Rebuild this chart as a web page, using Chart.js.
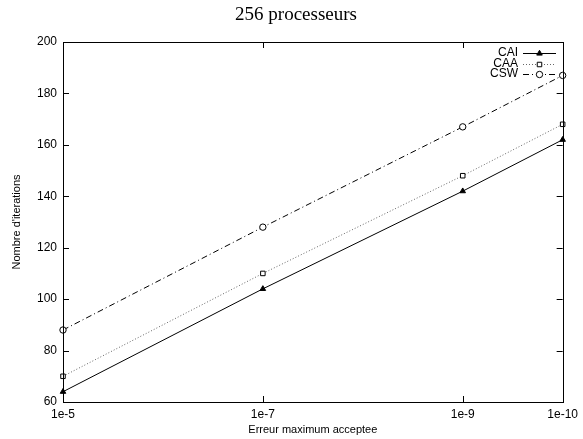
<!DOCTYPE html>
<html lang="fr">
<head>
  <meta charset="UTF-8">
  <title>256 processeurs</title>
  <style>
    html, body { margin: 0; padding: 0; background: #fff; }
    #wrap { width: 583px; height: 439px; }
  </style>
</head>
<body>
  <div id="wrap"><canvas id="myChart" width="583" height="439"></canvas></div>

  <script src="https://cdn.jsdelivr.net/npm/chart.js@4.4.1/dist/chart.umd.min.js"></script>
  <script>
    // erreur maximum acceptee (x) and iteration counts per method
    const erreurs = [1e-5, 1e-7, 1e-9, 1e-10];
    const cai = [64, 104, 142, 162];
    const caa = [70, 110, 148, 168];
    const csw = [88, 128, 167, 187];
    const yTicks = [60, 80, 100, 120, 140, 160, 180, 200];

    const toPoints = arr => arr.map((v, i) => ({ x: erreurs[i], y: v }));
    const expLabel = v => '1e-' + (-Math.round(Math.log10(v)));

    // gnuplot-like frame: full box, inward ticks mirrored on all sides, legend top right
    const gnuFrame = {
      id: 'gnuFrame',
      afterDraw(chart) {
        const { ctx, chartArea: a, scales } = chart;
        const tl = 6;
        ctx.save();
        ctx.strokeStyle = '#000';
        ctx.lineWidth = 1;
        ctx.strokeRect(Math.round(a.left) + 0.5, Math.round(a.top) + 0.5,
                       Math.round(a.right - a.left), Math.round(a.bottom - a.top));
        ctx.beginPath();
        yTicks.forEach(v => {
          const y = Math.round(scales.y.getPixelForValue(v)) + 0.5;
          ctx.moveTo(a.left, y); ctx.lineTo(a.left + tl, y);
          ctx.moveTo(a.right, y); ctx.lineTo(a.right - tl, y);
        });
        erreurs.forEach(v => {
          const x = Math.round(scales.x.getPixelForValue(v)) + 0.5;
          ctx.moveTo(x, a.bottom); ctx.lineTo(x, a.bottom - tl);
          ctx.moveTo(x, a.top); ctx.lineTo(x, a.top + tl);
        });
        ctx.stroke();

        // title
        ctx.fillStyle = '#000';
        ctx.font = '19px "Liberation Serif", serif';
        ctx.textAlign = 'center';
        ctx.textBaseline = 'middle';
        ctx.fillText('256 processeurs', 296, 15);

        // legend
        ctx.font = '12px "Liberation Sans", Arial, sans-serif';
        ctx.textAlign = 'right';
        chart.data.datasets.forEach((ds, i) => {
          const y = 53 + i * 10.5;
          const yl = Math.round(y) + 0.5;
          ctx.fillStyle = '#000';
          ctx.fillText(ds.label, 518, y);
          ctx.strokeStyle = ds.borderColor;
          ctx.setLineDash(ds.borderDash || []);
          ctx.beginPath();
          ctx.moveTo(523, yl);
          ctx.lineTo(556, yl);
          ctx.stroke();
          ctx.setLineDash([]);
          ctx.strokeStyle = '#000';
          ctx.fillStyle = ds.pointBackgroundColor;
          Chart.helpers.drawPoint(ctx, {
            pointStyle: ds.pointStyle, radius: ds.pointRadius, rotation: 0, borderWidth: 1
          }, 539.5, yl);
        });
        ctx.restore();
      }
    };

    const common = { fill: false, borderWidth: 1, tension: 0, pointRadius: 3.2, pointBorderWidth: 1, pointBorderColor: '#000' };

    new Chart(document.getElementById('myChart').getContext('2d'), {
      type: 'line',
      data: {
        datasets: [
          Object.assign({}, common, {
            label: 'CAI', data: toPoints(cai), borderColor: '#000',
            pointStyle: 'triangle', pointBackgroundColor: '#000'
          }),
          Object.assign({}, common, {
            label: 'CAA', data: toPoints(caa), borderColor: '#666', borderDash: [1, 2],
            pointStyle: 'rect', pointBackgroundColor: '#fff'
          }),
          Object.assign({}, common, {
            label: 'CSW', data: toPoints(csw), borderColor: '#000', borderDash: [6, 3, 1, 3],
            pointStyle: 'circle', pointBackgroundColor: '#fff'
          })
        ]
      },
      options: {
        responsive: false,
        animation: false,
        clip: false,
        layout: { padding: { left: 0, right: 14, top: 42, bottom: 0 } },
        plugins: { legend: { display: false }, tooltip: { enabled: false }, title: { display: false } },
        scales: {
          x: {
            type: 'logarithmic',
            reverse: true,
            min: 1e-10,
            max: 1e-5,
            afterBuildTicks: s => { s.ticks = erreurs.map(v => ({ value: v })); },
            afterFit: s => { s.height = 37; },
            grid: { display: false, drawTicks: false },
            border: { display: false },
            ticks: {
              color: '#000', padding: 5, maxRotation: 0, autoSkip: false,
              font: { family: '"Liberation Sans", Arial, sans-serif', size: 12 },
              callback: v => expLabel(v)
            },
            title: {
              display: true, text: 'Erreur maximum acceptee', color: '#000',
              font: { family: '"Liberation Sans", Arial, sans-serif', size: 11 },
              padding: { top: 0, bottom: 2 }
            }
          },
          y: {
            min: 60,
            max: 200,
            afterBuildTicks: s => { s.ticks = yTicks.map(v => ({ value: v })); },
            afterFit: s => { s.width = 63; },
            grid: { display: false, drawTicks: false },
            border: { display: false },
            ticks: {
              color: '#000', padding: 6,
              font: { family: '"Liberation Sans", Arial, sans-serif', size: 12 }
            },
            title: {
              display: true, text: "Nombre d'iterations", color: '#000',
              font: { family: '"Liberation Sans", Arial, sans-serif', size: 11 },
              padding: { top: 10, bottom: 0 }
            }
          }
        }
      },
      plugins: [gnuFrame]
    });
  </script>
</body>
</html>
